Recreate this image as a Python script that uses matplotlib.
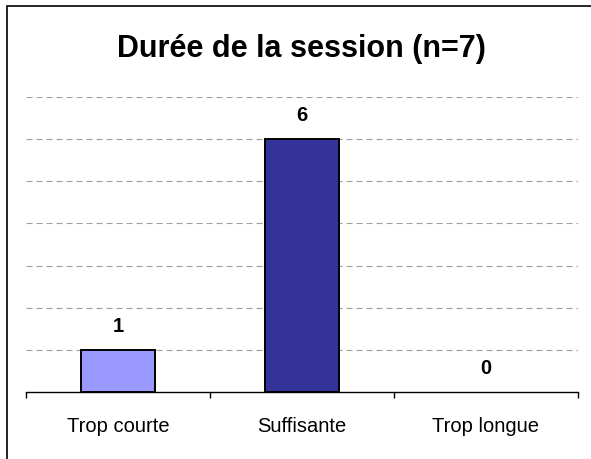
import matplotlib
matplotlib.use("Agg")
import matplotlib.pyplot as plt
from matplotlib.patches import Rectangle

categories = ["Trop courte", "Suffisante", "Trop longue"]
values = [1, 6, 0]
colors = ["#9999FF", "#333399", "#333399"]
title = "Durée de la session (n=7)"

plt.rcParams['font.family'] = ['Liberation Sans', 'DejaVu Sans']

fig = plt.figure(figsize=(5.91, 4.60), dpi=100)
ax = fig.add_axes([26/591, 1-393/460, (578-26)/591, (393-98)/460])

x = list(range(len(categories)))
edge_widths = [1.4 if v > 0 else 0 for v in values]
ax.bar(x, values, width=0.4, color=colors, edgecolor="black", linewidth=edge_widths, zorder=3)
for xi, v in zip(x, values):
    ax.annotate(str(v), (xi, v), xytext=(0, 17.5), textcoords="offset points",
                ha="center", va="center", fontsize=14.5, fontweight="bold")

ax.set_xlim(-0.5, 2.5)
ax.set_ylim(0, 7)
ax.set_yticks(range(1, 8))
ax.yaxis.grid(True, color="#a0a0a0", linestyle=(0, (5.5, 3.5)), linewidth=0.8)
ax.tick_params(axis="y", left=False, labelleft=False)
ax.set_xticks([-0.5, 0.5, 1.5, 2.5], minor=False)
ax.set_xticklabels([])
ax.set_xticks(x, minor=True)
ax.set_xticklabels(categories, minor=True, fontsize=14.5)
ax.tick_params(axis="x", which="major", direction="out", length=4, width=1, color="black")
ax.tick_params(axis="x", which="minor", length=0, pad=17.5)
for s in ["top", "right", "left"]:
    ax.spines[s].set_visible(False)
ax.spines["bottom"].set_linewidth(1)

fig.text(301/591, 1-49/460, title, ha="center", va="center", fontsize=22, fontweight="bold")

fig.patches.append(Rectangle((7/591, -0.1), 1.2, 1-7/460+0.1, transform=fig.transFigure,
                             fill=False, edgecolor="black", linewidth=1.2))

fig.savefig("out.png", dpi=100)
